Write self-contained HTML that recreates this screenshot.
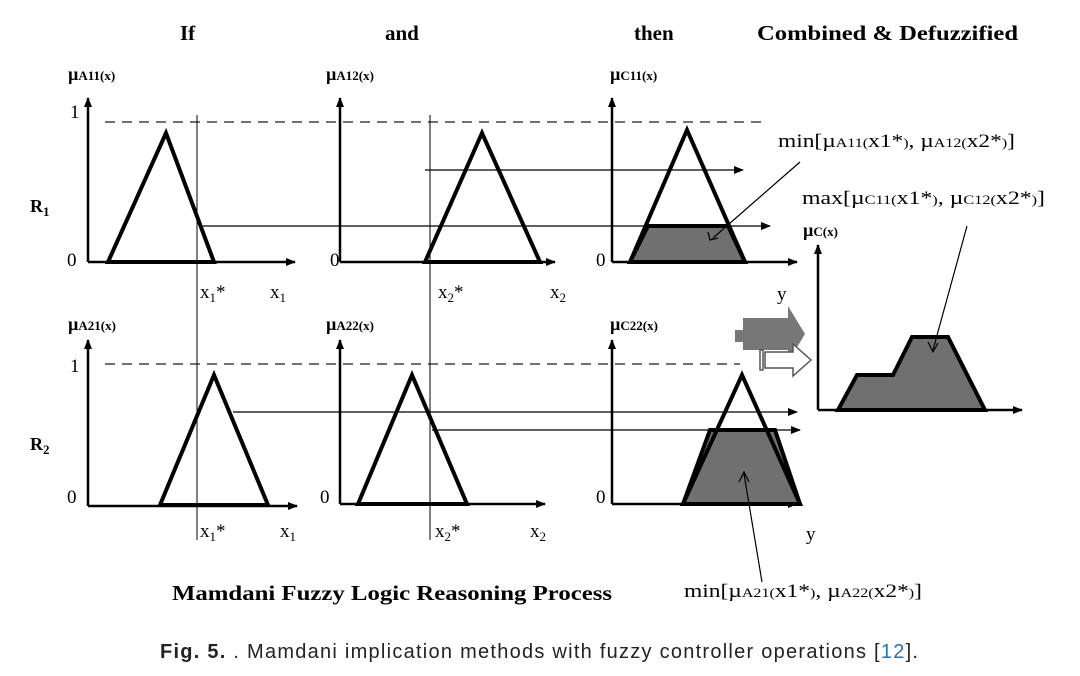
<!DOCTYPE html><html><head><style>body{margin:0;background:#fff}svg{display:block}
.t{font-family:"Liberation Serif",serif;font-weight:bold;font-size:21px}
.s{font-family:"Liberation Serif",serif;font-size:19px}
.m{font-family:"Liberation Serif",serif;font-weight:bold;font-size:18px}
</style></head><body>
<svg width="1080" height="676" viewBox="0 0 1080 676">
<defs><marker id="a" markerWidth="10" markerHeight="8" refX="9" refY="4" orient="auto" markerUnits="userSpaceOnUse"><path d="M0,0L10,4L0,8z" fill="#000"/></marker></defs>
<g class="t"><text x="180" y="40">If</text><text x="385" y="40">and</text><text x="634" y="40">then</text><text x="757" y="40" textLength="261" lengthAdjust="spacingAndGlyphs">Combined &amp; Defuzzified</text></g>
<g stroke="#000" stroke-width="2.5" fill="none" marker-end="url(#a)">
<path d="M88,262V98"/><path d="M88,262H295"/><path d="M340,262V98"/><path d="M340,262H555"/><path d="M612,262V98"/><path d="M612,262H797"/>
<path d="M88,506V340"/><path d="M88,506H297"/><path d="M340,504V340"/><path d="M340,504H545"/><path d="M612,504V340"/><path d="M612,504H797"/>
<path d="M818,410V245"/><path d="M818,410H1022"/></g>
<g stroke="#444" stroke-width="1.5" stroke-dasharray="10,7"><path d="M105,122H765"/><path d="M105,364H740"/></g>
<g stroke="#000" stroke-width="1"><path d="M197,115V540"/><path d="M430,115V540"/></g>
<g fill="#707070" stroke="#000" stroke-width="4"><path d="M648,226L630,262H745L728,226Z"/><path d="M710,430L683,504H800L775,430Z"/><path d="M838,410L857,375H893L912,337H948L985,410Z"/></g>
<g fill="none" stroke="#000" stroke-width="4"><path d="M108,262L166,133L214,262Z"/><path d="M425,262L482,133L540,262Z"/><path d="M630,262L687,130L745,262Z"/><path d="M160,505L214,375L268,505Z"/><path d="M358,504L412,375L467,504Z"/><path d="M683,504L742,375L800,504Z"/></g>
<g stroke="#000" stroke-width="1.2" marker-end="url(#a)"><path d="M203,226H770"/><path d="M425,170H743"/><path d="M233,412H797"/><path d="M432,430H800"/></g>
<g stroke="#000" stroke-width="1.2" fill="none"><path d="M800,162L713,238"/><path d="M708,232L710,240L718,238"/><path d="M967,226L933,350"/><path d="M928,342L933,352L938,343"/><path d="M762,582L744,474"/><path d="M739,482L744,472L749,482"/></g>
<path d="M735,330h8v-12h45v-12l17,28l-17,28v-12h-45v-8h-8z" fill="#777"/>
<path d="M760,350v20h3v-20z M765,352h28v-8l18,16l-18,16v-8h-28z" fill="#fff" stroke="#555" stroke-width="1.5"/>
<g class="s"><text x="70" y="118">1</text><text x="67" y="266">0</text><text x="330" y="266">0</text><text x="596" y="266">0</text><text x="70" y="372">1</text><text x="67" y="503">0</text><text x="320" y="503">0</text><text x="596" y="503">0</text>
<text x="200" y="298">x<tspan font-size="13" dy="4">1</tspan><tspan dy="-4">*</tspan></text><text x="270" y="298">x<tspan font-size="13" dy="4">1</tspan></text>
<text x="438" y="298">x<tspan font-size="13" dy="4">2</tspan><tspan dy="-4">*</tspan></text><text x="550" y="298">x<tspan font-size="13" dy="4">2</tspan></text>
<text x="200" y="537">x<tspan font-size="13" dy="4">1</tspan><tspan dy="-4">*</tspan></text><text x="280" y="537">x<tspan font-size="13" dy="4">1</tspan></text>
<text x="435" y="537">x<tspan font-size="13" dy="4">2</tspan><tspan dy="-4">*</tspan></text><text x="530" y="537">x<tspan font-size="13" dy="4">2</tspan></text>
<text x="777" y="300">y</text><text x="806" y="540">y</text></g>
<g class="m"><text x="30" y="212">R<tspan font-size="13" dy="4">1</tspan></text><text x="30" y="450">R<tspan font-size="13" dy="4">2</tspan></text>
<text x="68" y="80">µ<tspan font-size="13">A11(x)</tspan></text><text x="326" y="80">µ<tspan font-size="13">A12(x)</tspan></text><text x="610" y="80">µ<tspan font-size="13">C11(x)</tspan></text>
<text x="68" y="330">µ<tspan font-size="13">A21(x)</tspan></text><text x="326" y="330">µ<tspan font-size="13">A22(x)</tspan></text><text x="610" y="330">µ<tspan font-size="13">C22(x)</tspan></text>
<text x="803" y="236">µ<tspan font-size="13">C(x)</tspan></text></g>
<g class="s"><text x="778" y="147" textLength="237" lengthAdjust="spacingAndGlyphs">min[µ<tspan font-size="13">A11(</tspan>x1*<tspan font-size="13">)</tspan>, µ<tspan font-size="13">A12(</tspan>x2*<tspan font-size="13">)</tspan>]</text>
<text x="802" y="204" textLength="243" lengthAdjust="spacingAndGlyphs">max[µ<tspan font-size="13">C11(</tspan>x1*<tspan font-size="13">)</tspan>, µ<tspan font-size="13">C12(</tspan>x2*<tspan font-size="13">)</tspan>]</text>
<text x="684" y="597" textLength="238" lengthAdjust="spacingAndGlyphs">min[µ<tspan font-size="13">A21(</tspan>x1*<tspan font-size="13">)</tspan>, µ<tspan font-size="13">A22(</tspan>x2*<tspan font-size="13">)</tspan>]</text></g>
<text x="172" y="600" class="t" textLength="440" lengthAdjust="spacingAndGlyphs">Mamdani Fuzzy Logic Reasoning Process</text>
<text x="160" y="658" textLength="758" font-family="Liberation Sans,sans-serif" font-size="20" fill="#222"><tspan font-weight="bold">Fig. 5.</tspan> . Mamdani implication methods with fuzzy controller operations [<tspan fill="#2a6fb0">12</tspan>].</text>
</svg></body></html>
